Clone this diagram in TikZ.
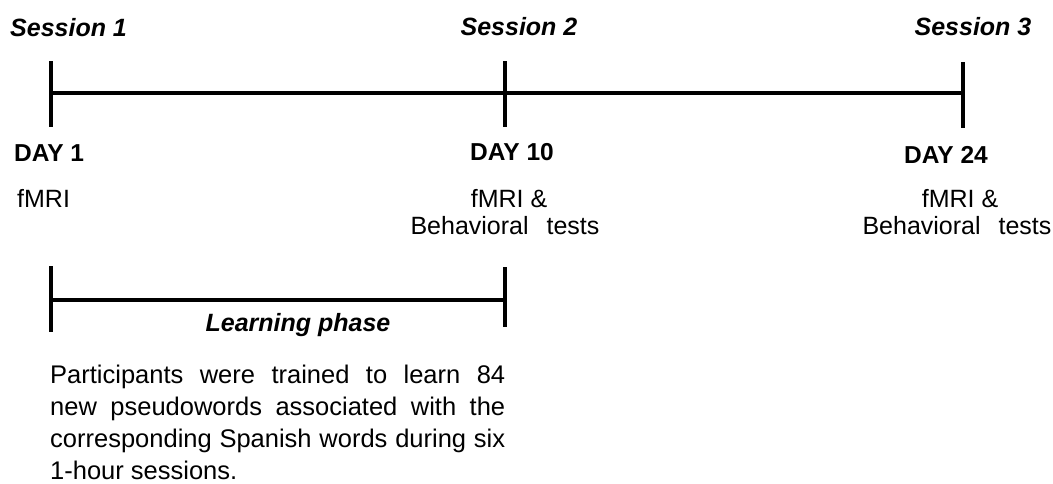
\documentclass[tikz,border=0pt]{standalone}
\usepackage{fontspec}
\setmainfont{Liberation Sans}
\begin{document}
\begin{tikzpicture}[x=1pt,y=-1pt,
  bar/.style={line width=3.6pt, line cap=butt},
  txt/.style={inner sep=0pt, font=\fontsize{25}{30}\selectfont},
  sess/.style={txt, font=\fontsize{25}{30}\selectfont\bfseries\itshape},
  day/.style={txt, font=\fontsize{24.5}{30}\selectfont\bfseries},
  paratxt/.style={inner sep=0pt, font=\fontsize{25.5}{32}\selectfont}]
\useasboundingbox[fill=white] (0,0) rectangle (1053,483);

% main timeline
\coordinate (t1a) at (51,61);  \coordinate (t1b) at (51,127);
\coordinate (t2a) at (505,61); \coordinate (t2b) at (505,127);
\coordinate (t3a) at (963,62); \coordinate (t3b) at (963,128);
\coordinate (m1) at (51,93); \coordinate (m3) at (963,93);
\draw[bar] (t1a) -- (t1b);
\draw[bar] (t2a) -- (t2b);
\draw[bar] (t3a) -- (t3b);
\draw[bar] (m1) -- (m3);

% labels
\node[sess, anchor=base west] (s1) at (10,36) {Session 1};
\node[sess, anchor=base] (s2) at (519,35) {Session 2};
\node[sess, anchor=base] (s3) at (973,35) {Session 3};

\node[day, anchor=base west] (d1) at (14,161) {DAY 1};
\node[day, anchor=base] (d2) at (512,160) {DAY 10};
\node[day, anchor=base] (d3) at (946,163) {DAY 24};

\node[txt, anchor=base west] (f1) at (17,207) {fMRI};
\node[txt, anchor=base] (f2) at (509,207) {fMRI \&};
\node[txt, anchor=base] (f3) at (960,207) {fMRI \&};
\node[txt, anchor=base] (b2) at (505,234) {Behavioral\hspace{18pt}tests};
\node[txt, anchor=base] (b3) at (957,234) {Behavioral\hspace{18pt}tests};

% learning phase
\coordinate (l1a) at (51,266); \coordinate (l1b) at (51,332);
\coordinate (l2a) at (505,267); \coordinate (l2b) at (505,327);
\coordinate (lm1) at (51,300); \coordinate (lm2) at (505,300);
\draw[bar] (l1a) -- (l1b);
\draw[bar] (l2a) -- (l2b);
\draw[bar] (lm1) -- (lm2);
\node[sess, anchor=base] (lp) at (298,331) {Learning phase};

\node[paratxt, anchor=base west] (para) at (50,383) {\vtop{\hsize=455pt \parindent=0pt \baselineskip=32pt
  \hbox to 455pt{Participants\hfill were\hfill trained\hfill to\hfill learn\hfill 84}
  \hbox to 455pt{new\hfill pseudowords\hfill associated\hfill with\hfill the}
  \hbox to 455pt{corresponding\hfill Spanish\hfill words\hfill during\hfill six}
  \hbox{1-hour sessions.}}};
\end{tikzpicture}
\end{document}
